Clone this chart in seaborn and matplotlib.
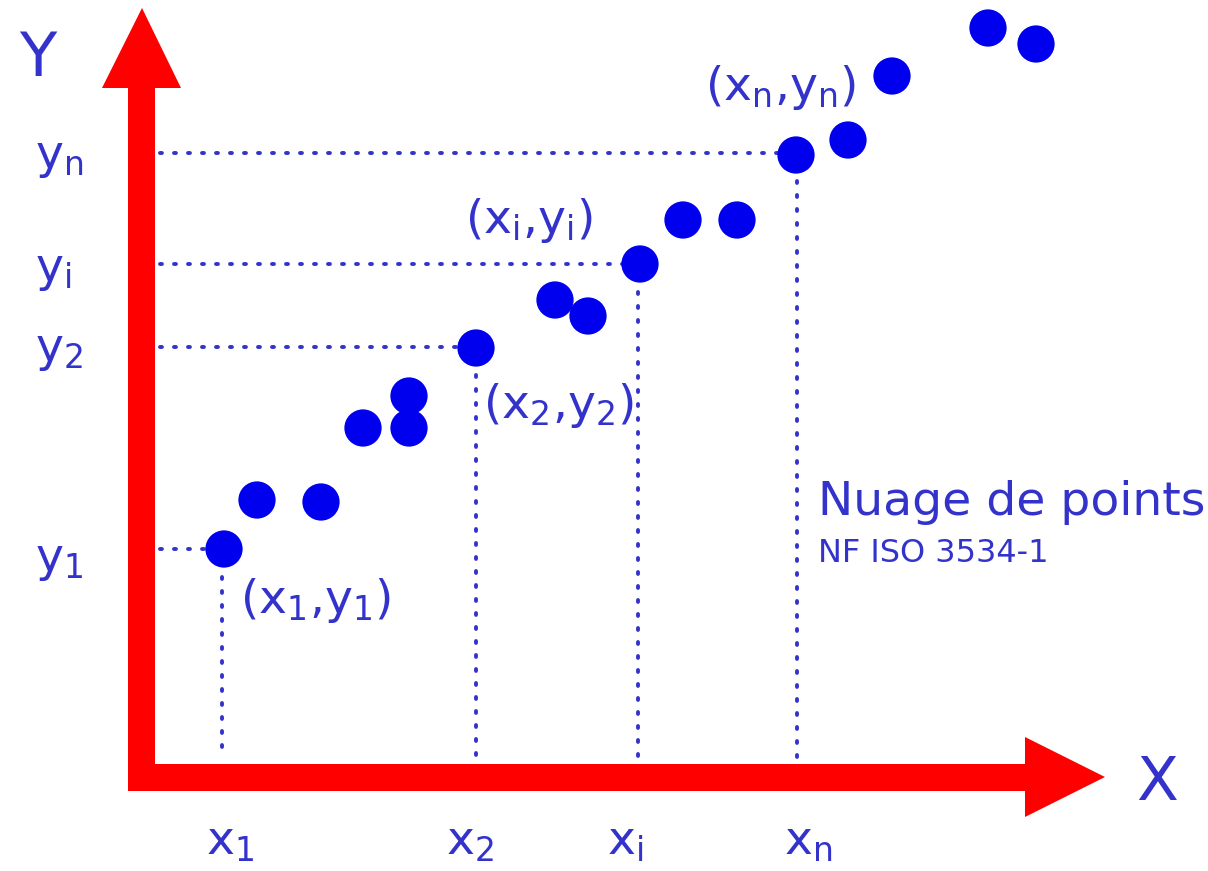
import numpy as np
import pandas as pd
import matplotlib
matplotlib.use("Agg")
import matplotlib.pyplot as plt
import seaborn as sns
from matplotlib.patches import Polygon

# Points du nuage (coordonnées, axe y vers le bas)
px = [224, 257, 321, 363, 409, 409, 476, 555, 588, 640, 683, 737, 796, 848, 892, 988, 1036]
py = [549, 500, 502, 428, 396, 428, 348, 300, 316, 264, 220, 220, 155, 140, 76, 28, 44]

# Points repérés (x1, x2, xi, xn)
rep_x = [222, 476, 638, 797]
rep_y = [549, 347, 264, 153]
rep_sub = ["1", "2", "i", "n"]

BLEU = "#3333cc"
ROUGE = "#ff0000"

sns.set_theme(style="white")
plt.rcParams["font.family"] = ["DejaVu Sans"]
plt.rcParams["mathtext.fontset"] = "dejavusans"

fig = plt.figure(figsize=(12.08, 8.71), dpi=100)
ax = fig.add_axes([0, 0, 1, 1])

df = pd.DataFrame({"x": px, "y": py})

# Lignes pointillées
for xr, yr in zip(rep_x, rep_y):
    ax.plot([160, xr], [yr, yr], color=BLEU, lw=2.8, ls=(0, (0.5, 3.1)),
            dash_capstyle="round", zorder=1)
    ax.plot([xr, xr], [yr, 757], color=BLEU, lw=2.8, ls=(0, (0.5, 3.1)),
            dash_capstyle="round", zorder=1)

# Axes rouges (flèches)
ax.add_patch(Polygon([[128, 791], [128, 88], [102, 88], [142, 8], [181, 88],
                      [155, 88], [155, 791]], closed=True, color=ROUGE, lw=0, zorder=2))
ax.add_patch(Polygon([[128, 791], [128, 764], [1025, 764], [1025, 737], [1105, 777],
                      [1025, 817], [1025, 791]], closed=True, color=ROUGE, lw=0, zorder=2))

sns.scatterplot(data=df, x="x", y="y", ax=ax, s=720, color="#0000ee",
                edgecolor="none", zorder=3, legend=False)
ax.set_xlim(0, 1208)
ax.set_ylim(871, 0)
ax.axis("off")

fs = 34
ax.text(38, 60, "Y", color=BLEU, fontsize=44, ha="center", va="center")
ax.text(1157, 783, "X", color=BLEU, fontsize=44, ha="center", va="center")

# Étiquettes des axes
y_lab_pos = [560, 350, 270, 158]
for s, yl in zip(rep_sub, y_lab_pos):
    ax.text(35, yl, r"$\mathregular{y_{%s}}$" % s, color=BLEU, fontsize=fs,
            ha="left", va="center")
x_lab_pos = [230, 470, 625, 808]
for s, xl in zip(rep_sub, x_lab_pos):
    ax.text(xl, 842, r"$\mathregular{x_{%s}}$" % s, color=BLEU, fontsize=fs,
            ha="center", va="center")

# Étiquettes des couples
couples = [(240, 600, "1"), (483, 405, "2"), (465, 220, "i"), (705, 88, "n")]
for xc, yc, s in couples:
    ax.text(xc, yc, r"$\mathregular{(x_{%s}{,}y_{%s})}$" % (s, s), color=BLEU,
            fontsize=fs, ha="left", va="center")

ax.text(818, 502, "Nuage de points", color=BLEU, fontsize=34, ha="left", va="center")
ax.text(818, 553, "NF ISO 3534-1", color=BLEU, fontsize=23, ha="left", va="center")

fig.savefig("out.png", dpi=100)
